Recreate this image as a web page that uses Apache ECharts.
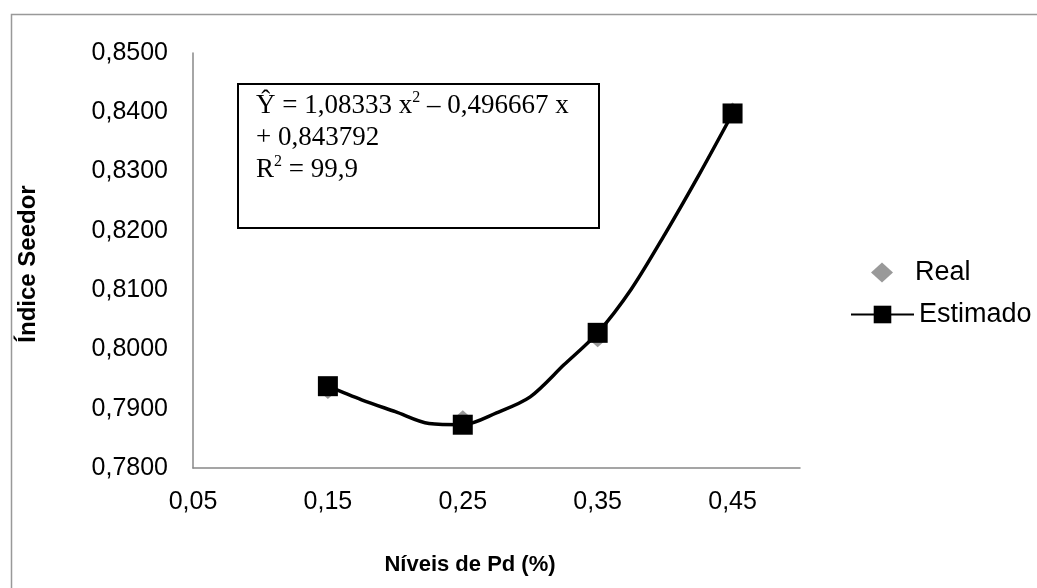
<!DOCTYPE html>
<html>
<head>
<meta charset="utf-8">
<script src="https://cdn.jsdelivr.net/npm/echarts@6/dist/echarts.min.js"></script>
<style>
  html, body { margin: 0; padding: 0; background: #fff; }
  #chart { width: 1037px; height: 588px; }
</style>
</head>
<body>
<div id="chart"></div>
<script>
// níveis de Pd (%) e valores
const niveis = [0.15, 0.25, 0.35, 0.45];
const real = [0.7930, 0.7884, 0.8017, 0.8403];
const estimado = [0.7938, 0.7873, 0.8028, 0.8398];
// pontos intermediários da curva estimada (sem marcador)
const curvaX = [0.175, 0.20, 0.225, 0.275, 0.30, 0.325, 0.375, 0.40, 0.425];
const curvaY = [0.7915, 0.7895, 0.7875, 0.7893, 0.7920, 0.7974, 0.8102, 0.8195, 0.8294];
const xTicks = [0.05, 0.15, 0.25, 0.35, 0.45];

const chart = echarts.init(document.getElementById('chart'));

// monta a linha: marcadores nos níveis, pontos da curva sem símbolo
let linha = [];
niveis.forEach((x, i) => {
  linha.push({ value: [x, estimado[i]], symbol: 'rect' });
});
curvaX.forEach((x, i) => {
  linha.push({ value: [x, curvaY[i]], symbol: 'none' });
});
linha.sort((a, b) => a.value[0] - b.value[0]);

const legendText = { fontFamily: 'Liberation Sans', fontSize: 27, color: '#000' };

const option = {
  backgroundColor: '#fff',
  animation: false,
  grid: { left: 193, right: 237, top: 53, bottom: 120 },
  legend: [{
    left: 866,
    top: 254,
    itemWidth: 22,
    itemHeight: 20,
    textStyle: Object.assign({ padding: [0, 0, 0, 17] }, legendText),
    data: ['Real']
  }, {
    left: 845,
    top: 296,
    itemWidth: 63,
    itemHeight: 22,
    textStyle: legendText,
    data: ['Estimado']
  }],
  xAxis: {
    type: 'value',
    min: 0.05,
    max: 0.5,
    interval: 0.05,
    splitLine: { show: false },
    axisTick: { show: false },
    axisLine: { lineStyle: { color: '#888', width: 1.5 } },
    axisLabel: {
      margin: 22,
      fontFamily: 'Liberation Sans',
      fontSize: 25,
      color: '#000',
      formatter: function (v) {
        let hit = xTicks.some(t => Math.abs(t - v) < 1e-6);
        return hit ? v.toFixed(2).replace('.', ',') : '';
      }
    }
  },
  yAxis: {
    type: 'value',
    min: 0.78,
    max: 0.85,
    interval: 0.01,
    splitLine: { show: false },
    axisTick: { show: false },
    axisLine: { show: true, lineStyle: { color: '#888', width: 1.5 } },
    axisLabel: {
      margin: 25,
      fontFamily: 'Liberation Sans',
      fontSize: 25,
      color: '#000',
      formatter: function (v) {
        return v.toFixed(4).replace('.', ',');
      }
    }
  },
  series: [{
    name: 'Real',
    type: 'scatter',
    symbol: 'diamond',
    symbolSize: [18, 16],
    itemStyle: { color: '#808080' },
    data: niveis.map((x, i) => [x, real[i]]),
    z: 2
  }, {
    name: 'Estimado',
    type: 'line',
    smooth: 0.3,
    symbol: 'rect',
    symbolSize: 20,
    showAllSymbol: true,
    itemStyle: { color: '#000' },
    lineStyle: { color: '#000', width: 3.5 },
    data: linha,
    z: 3
  }],
  graphic: [{
    type: 'rect',
    left: 9, top: 12,
    shape: { width: 1100, height: 700 },
    style: { fill: 'none', stroke: '#999', lineWidth: 1.5 },
    silent: true
  }, {
    type: 'rect',
    left: 237, top: 83,
    shape: { width: 361, height: 144 },
    style: { fill: '#fff', stroke: '#000', lineWidth: 2 }
  }, {
    type: 'text',
    left: 256, top: 90,
    style: {
      text: '{a|Ŷ = 1,08333 x}{s|2}{a| – 0,496667 x}\n{a|+ 0,843792}\n{a|R}{s|2}{a| = 99,9}',
      fill: '#000',
      lineHeight: 32,
      rich: {
        a: { fontFamily: 'Liberation Serif', fontSize: 27, lineHeight: 32, fill: '#000' },
        s: { fontFamily: 'Liberation Serif', fontSize: 16, lineHeight: 24, verticalAlign: 'top', fill: '#000' }
      }
    }
  }, {
    type: 'text',
    x: 470, y: 565,
    style: {
      text: 'Níveis de Pd (%)',
      fontFamily: 'Liberation Sans',
      fontWeight: 'bold',
      fontSize: 22,
      fill: '#000',
      textAlign: 'center',
      textVerticalAlign: 'middle'
    }
  }, {
    type: 'text',
    x: 28, y: 264,
    rotation: Math.PI / 2,
    style: {
      text: 'Índice Seedor',
      fontFamily: 'Liberation Sans',
      fontWeight: 'bold',
      fontSize: 24,
      fill: '#000',
      textAlign: 'center',
      textVerticalAlign: 'middle'
    }
  }]
};

chart.setOption(option);
</script>
</body>
</html>
